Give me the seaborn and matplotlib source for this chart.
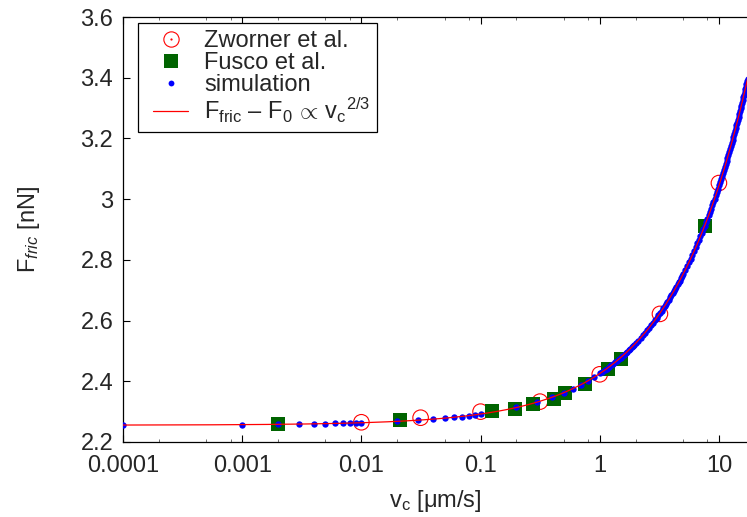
import numpy as np
import matplotlib
matplotlib.use("Agg")
import matplotlib.pyplot as plt
import seaborn as sns
from matplotlib.lines import Line2D
from matplotlib.legend_handler import HandlerTuple, HandlerLine2D
from matplotlib.ticker import FixedLocator, FixedFormatter, LogLocator, NullFormatter

# ---- measured friction force vs. velocity -------------------------------
zworner_v = [0.01, 0.0314, 0.1, 0.315, 1.0, 3.2, 10.0]
zworner_F = [2.265, 2.280, 2.300, 2.333, 2.423, 2.622, 3.053]

fusco_v = [0.002, 0.021, 0.124, 0.195, 0.273, 0.413, 0.51, 0.75, 1.18, 1.50, 7.63]
fusco_F = [2.260, 2.273, 2.302, 2.309, 2.325, 2.342, 2.360, 2.391, 2.441, 2.473, 2.913]

# ---- simulation -----------------------------------------------------------
sim_v = [
    0.0001, 0.001, 0.002, 0.003, 0.004, 0.005, 0.006, 0.007, 0.008, 0.009,
    0.01, 0.02, 0.03, 0.04, 0.05, 0.06, 0.07, 0.08, 0.09,
    0.1, 0.2, 0.3, 0.4, 0.5, 0.6, 0.7, 0.8, 0.9,
    1.00, 1.05, 1.10, 1.15, 1.20, 1.25, 1.30, 1.35, 1.40, 1.45,
    1.50, 1.55, 1.60, 1.65, 1.70, 1.75, 1.80, 1.85, 1.90, 1.95,
    2.0, 2.1, 2.2, 2.3, 2.4, 2.5, 2.6, 2.7, 2.8, 2.9,
    3.0, 3.1, 3.2, 3.3, 3.4, 3.5, 3.6, 3.7, 3.8, 3.9,
    4.0, 4.1, 4.2, 4.3, 4.4, 4.5, 4.6, 4.7, 4.8, 4.9,
    5.0, 5.2, 5.4, 5.6, 5.8, 6.0, 6.2, 6.4, 6.6, 6.8,
    7.0, 7.2, 7.4, 7.6, 7.8, 8.0, 8.2, 8.4, 8.6, 8.8,
    9.0, 9.2, 9.4, 9.6, 9.8, 10.0, 10.2, 10.4, 10.6, 10.8,
    11.0, 11.2, 11.4, 11.6, 11.8, 12.0, 12.2, 12.4, 12.6, 12.8,
    13.0, 13.2, 13.4, 13.6, 13.8, 14.0, 14.2, 14.4, 14.6, 14.8,
    15.0, 15.2, 15.4, 15.6, 15.8, 16.0, 16.2, 16.4, 16.6, 16.8,
    17.0, 17.2, 17.4,
]
sim_F = [
    2.255, 2.257, 2.258, 2.259, 2.260, 2.260, 2.261, 2.261, 2.262, 2.263,
    2.263, 2.268, 2.272, 2.275, 2.279, 2.282, 2.284, 2.287, 2.290,
    2.292, 2.314, 2.332, 2.348, 2.363, 2.376, 2.389, 2.402, 2.414,
    2.426, 2.431, 2.437, 2.442, 2.447, 2.453, 2.458, 2.463, 2.468, 2.473,
    2.478, 2.483, 2.488, 2.493, 2.498, 2.502, 2.507, 2.512, 2.516, 2.521,
    2.525, 2.534, 2.543, 2.552, 2.560, 2.569, 2.577, 2.585, 2.593, 2.601,
    2.609, 2.617, 2.625, 2.632, 2.640, 2.647, 2.655, 2.662, 2.669, 2.677,
    2.684, 2.691, 2.698, 2.705, 2.712, 2.719, 2.726, 2.732, 2.739, 2.746,
    2.753, 2.766, 2.779, 2.792, 2.804, 2.817, 2.829, 2.842, 2.854, 2.866,
    2.878, 2.889, 2.901, 2.913, 2.924, 2.936, 2.947, 2.958, 2.969, 2.980,
    2.991, 3.002, 3.013, 3.023, 3.034, 3.045, 3.055, 3.065, 3.076, 3.086,
    3.096, 3.106, 3.117, 3.127, 3.137, 3.147, 3.156, 3.166, 3.176, 3.186,
    3.195, 3.205, 3.215, 3.224, 3.234, 3.243, 3.252, 3.262, 3.271, 3.280,
    3.289, 3.299, 3.308, 3.317, 3.326, 3.335, 3.344, 3.353, 3.362, 3.371,
    3.379, 3.388, 3.397,
]

# power-law fit  F_fric = F_0 + A * v_c^(2/3)
fit_F0 = 2.2555
fit_A = 0.17

x_ticks = [0.0001, 0.001, 0.01, 0.1, 1, 10]
x_tick_labels = ["0.0001", "0.001", "0.01", "0.1", "1", "10"]
y_ticks = [2.2, 2.4, 2.6, 2.8, 3.0, 3.2, 3.4, 3.6]
y_tick_labels = ["2.2", "2.4", "2.6", "2.8", "3", "3.2", "3.4", "3.6"]

# ---- style ----------------------------------------------------------------
sns.set_theme(style="ticks")
plt.rcParams["font.family"] = ["Liberation Sans", "DejaVu Sans"]
plt.rcParams.update({
    "mathtext.fontset": "custom",
    "mathtext.rm": "Liberation Sans",
    "mathtext.it": "Liberation Sans:italic",
    "mathtext.sf": "Liberation Sans",
    "font.size": 17,
    "axes.linewidth": 0.9,
    "axes.edgecolor": "black",
})

FS = 17
RED = "#ff0000"
GREEN = "#006400"
BLUE = "#0000ff"

fig = plt.figure(figsize=(7.47, 5.17), dpi=100)
W, H = 747, 517
ax = fig.add_axes([123 / W, 1 - 442 / H, 1 - 123 / W, (442 - 17) / H])
ax.set_xscale("log")

# Zworner et al.: open red circles
sns.scatterplot(x=zworner_v, y=zworner_F, ax=ax, marker="o", s=125,
                facecolor="none", edgecolor=RED, linewidth=0.8, zorder=2)
coll = ax.collections[-1]
coll.set_facecolor("none")
coll.set_edgecolor(RED)

# Fusco et al.: filled dark-green squares
sns.scatterplot(x=fusco_v, y=fusco_F, ax=ax, marker="s", s=90,
                color=GREEN, linewidth=0, zorder=3)

# simulation: small blue dots
sns.scatterplot(x=sim_v, y=sim_F, ax=ax, marker="o", s=21,
                color=BLUE, linewidth=0, zorder=4)

# fit curve
fit_v = np.logspace(-4, np.log10(17.5), 500)
fit_F = fit_F0 + fit_A * fit_v ** (2.0 / 3.0)
sns.lineplot(x=fit_v, y=fit_F, ax=ax, color=RED, linewidth=0.9, zorder=5,
             sort=False)

# ---- axes -----------------------------------------------------------------
ax.set_xlim(1e-4, 17.2)
ax.set_ylim(2.2, 3.6)
ax.xaxis.set_major_locator(FixedLocator(x_ticks))
ax.xaxis.set_major_formatter(FixedFormatter(x_tick_labels))
ax.xaxis.set_minor_locator(LogLocator(base=10, subs=(2, 5, 8), numticks=20))
ax.xaxis.set_minor_formatter(NullFormatter())
ax.yaxis.set_major_locator(FixedLocator(y_ticks))
ax.yaxis.set_major_formatter(FixedFormatter(y_tick_labels))

ax.tick_params(axis="both", which="major", direction="in", length=5,
               width=0.8, color="black", labelsize=FS, top=True, right=False)
ax.tick_params(axis="x", which="major", pad=9)
ax.tick_params(axis="y", which="major", pad=7)
ax.tick_params(axis="x", which="minor", direction="in", length=2.5,
               width=0.6, color="#555555", top=True)
ax.spines["right"].set_visible(False)
for s in ("left", "bottom", "top"):
    ax.spines[s].set_linewidth(0.9)

ax.set_xlabel(r"v$_\mathregular{c}$ [μm/s]", fontsize=FS, labelpad=8)
ax.set_ylabel(r"F$_{\mathit{fric}}$ [nN]", fontsize=FS, labelpad=28)

# ---- legend ---------------------------------------------------------------
h_zw = (Line2D([], [], ls="none", marker="o", ms=11, mfc="none", mec=RED, mew=0.8),
        Line2D([], [], ls="none", marker="o", ms=1.6, mfc=RED, mec=RED, mew=0))
h_fu = Line2D([], [], ls="none", marker="s", ms=9.5, mfc=GREEN, mec=GREEN, mew=0)
h_si = Line2D([], [], ls="none", marker="o", ms=4.2, mfc=BLUE, mec=BLUE, mew=0)
h_fit = Line2D([], [], color=RED, lw=0.9)
fit_label = (r"F$_\mathregular{fric}$ – F$_\mathregular{0}$$\,\propto\,$"
             r"v$_\mathregular{c}$${}^\mathregular{2/3}$")
HPAD = 0.34   # trims the left end of each legend sample
leg = ax.legend(
    [h_zw, h_fu, h_si, h_fit],
    ["Zworner et al.", "Fusco et al.", "simulation", fit_label],
    handler_map={tuple: HandlerTuple(ndivide=1, pad=0, xpad=HPAD),
                 Line2D: HandlerLine2D(xpad=HPAD)},
    loc="upper left", bbox_to_anchor=(15 / 624, (442 - 23) / 425),
    borderaxespad=0, frameon=True, fancybox=False, shadow=False,
    fontsize=FS, handlelength=1.82, handletextpad=0.68, borderpad=0.3,
    labelspacing=0.0,
)
leg.get_frame().set_edgecolor("black")
leg.get_frame().set_linewidth(0.9)
leg.get_frame().set_alpha(1)

fig.savefig("out.png", dpi=100)
